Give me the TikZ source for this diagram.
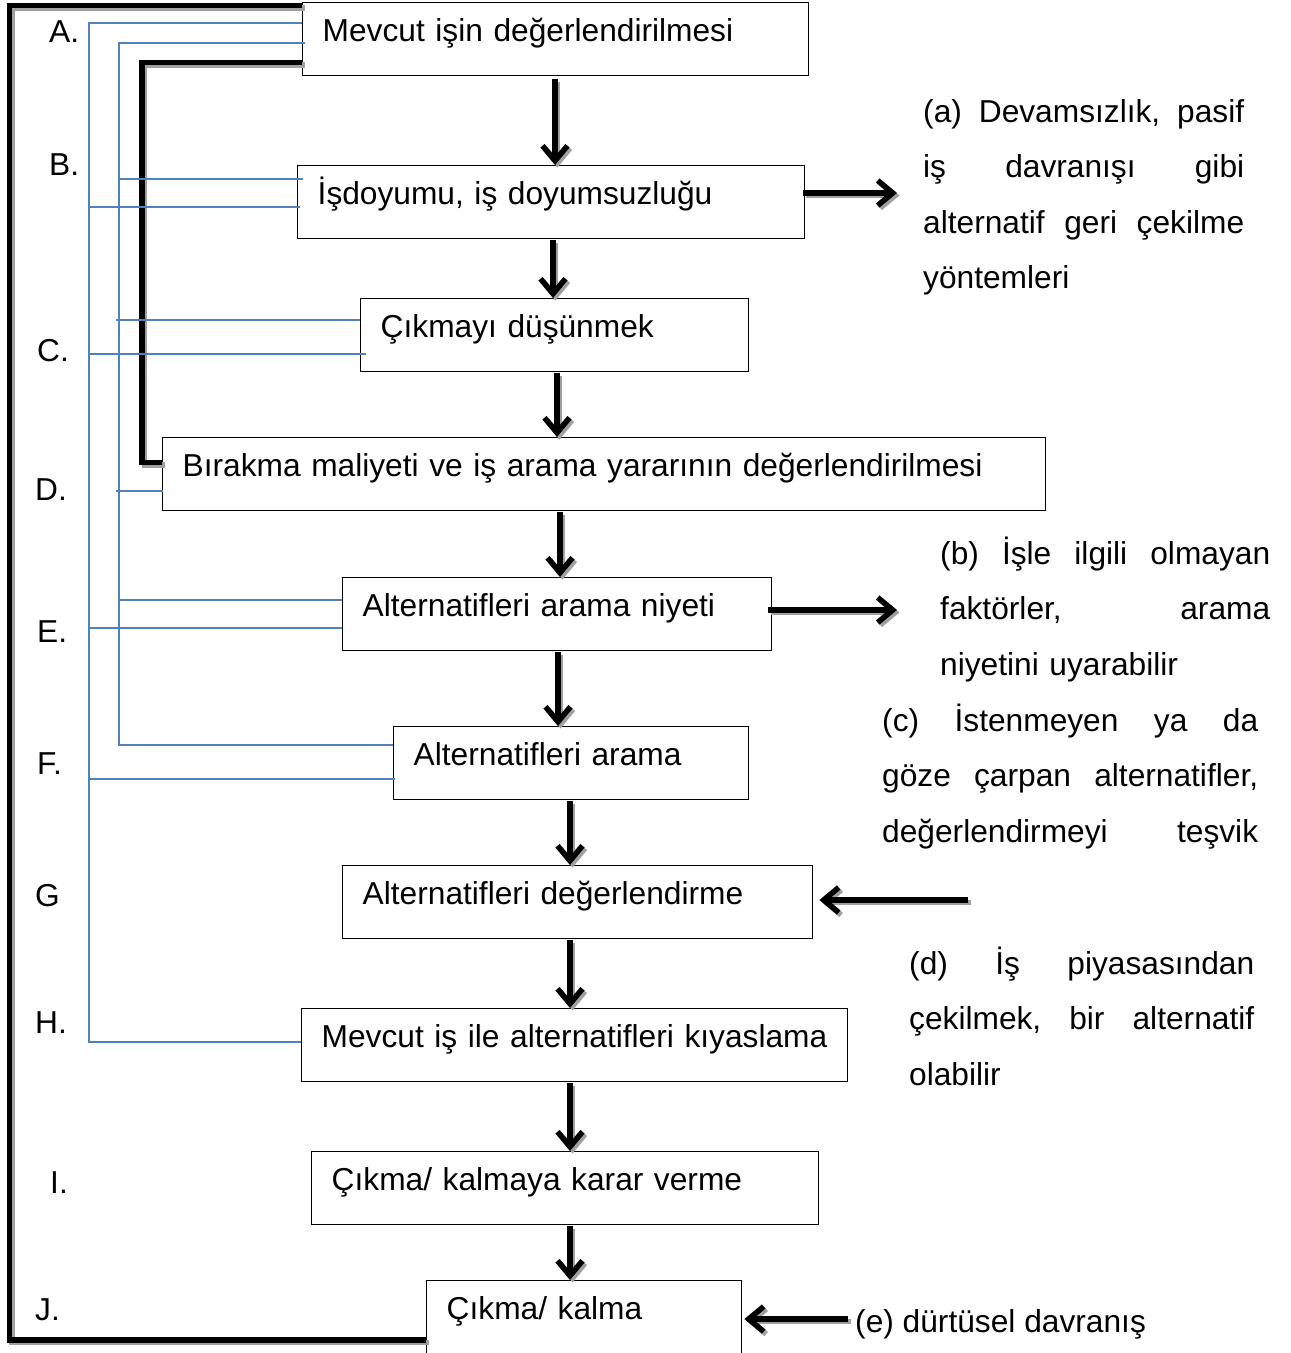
\documentclass[tikz,border=0pt]{standalone}
\usepackage{fontspec}
\setmainfont{Liberation Sans}
\usetikzlibrary{arrows.meta}
\definecolor{linkblue}{RGB}{79,129,189}
\definecolor{shade}{RGB}{160,160,160}

% thick arrow drawn twice: grey offset copy first, then the black one
\newcommand{\flowarrow}[2]{%
  \draw[flow, draw=shade, transform canvas={xshift=2.5pt,yshift=-2.5pt}] #1 -- #2;
  \draw[flow] #1 -- #2;}

\begin{document}
\begin{tikzpicture}[x=1pt,y=-1pt,
  font=\fontsize{31.7}{38}\selectfont,
  stage/.style={draw=black, line width=1.4pt, anchor=north west,
    inner xsep=20pt, inner ysep=0pt, text height=39pt, text depth=34pt,
    align=left},
  tag/.style={anchor=base west, inner sep=0pt},
  note/.style={anchor=base west, inner sep=0pt, align=left,
    font=\fontsize{31.7}{55.5}\selectfont},
  link/.style={draw=linkblue, line width=2pt},
  frame/.style={line width=5.5pt, line join=miter},
  frameshade/.style={frame, draw=shade, transform canvas={xshift=2.5pt,yshift=-2.5pt}},
  flow/.style={line width=5.5pt, -{Straight Barb[length=15pt,width=25pt]}},
]
\clip (0,0) rectangle (1291,1353);

% process stages
\node[stage, text width=466pt] (nA) at (302,2)   {\mbox{Mevcut işin değerlendirilmesi}};
\node[stage, text width=467pt] (nB) at (297,165) {\mbox{İşdoyumu, iş doyumsuzluğu}};
\node[stage, text width=348pt] (nC) at (360,298) {\mbox{Çıkmayı düşünmek}};
\node[stage, text width=843pt] (nD) at (162,437) {\mbox{Bırakma maliyeti ve iş arama yararının değerlendirilmesi}};
\node[stage, text width=389pt] (nE) at (342,577) {\mbox{Alternatifleri arama niyeti}};
\node[stage, text width=315pt] (nF) at (393,726) {\mbox{Alternatifleri arama}};
\node[stage, text width=430pt] (nG) at (342,865) {\mbox{Alternatifleri değerlendirme}};
\node[stage, text width=506pt] (nH) at (301,1008) {\mbox{Mevcut iş ile alternatifleri kıyaslama}};
\node[stage, text width=467pt] (nI) at (311,1151) {\mbox{Çıkma/ kalmaya karar verme}};
\node[stage, text width=275pt, text depth=50pt] (nJ) at (426,1280) {\mbox{Çıkma/ kalma}};

% step letters
\node[tag] (lA) at (49,42)   {A.};
\node[tag] (lB) at (49,175)  {B.};
\node[tag] (lC) at (37,361)  {C.};
\node[tag] (lD) at (35,500)  {D.};
\node[tag] (lE) at (37,642)  {E.};
\node[tag] (lF) at (37,774)  {F.};
\node[tag] (lG) at (35,906)  {G};
\node[tag] (lH) at (35,1033) {H.};
\node[tag] (lI) at (50,1193) {I.};
\node[tag] (lJ) at (35,1320) {J.};

% side remarks
\node[note, text width=321pt] (na) at (923,122)
  {(a) \hfill Devamsızlık, \hfill pasif\\
   iş \hfill davranışı \hfill gibi\\
   alternatif \hfill geri \hfill çekilme\\
   yöntemleri};
\node[note, text width=330pt] (nb) at (940,564)
  {(b) \hfill İşle \hfill ilgili \hfill olmayan\\
   faktörler, \hfill arama\\
   niyetini uyarabilir};
\node[note, text width=376pt] (nc) at (882,731)
  {(c) \hfill İstenmeyen \hfill ya \hfill da\\
   göze \hfill çarpan \hfill alternatifler,\\
   değerlendirmeyi \hfill teşvik};
\node[note, text width=345pt] (nd) at (909,974)
  {(d) \hfill İş \hfill piyasasından\\
   çekilmek, \hfill bir \hfill alternatif\\
   olabilir};
\node[tag] (ne) at (855,1332) {(e) dürtüsel davranış};

% trunk corners
\coordinate (fTop) at (9.5,5.5);
\coordinate (fBot) at (9.5,1340);
\coordinate (kTop) at (142,62.5);
\coordinate (kBot) at (142,462.5);
\coordinate (oTop) at (89,23);
\coordinate (oBot) at (89,1042);
\coordinate (iTop) at (119,43);
\coordinate (iBot) at (119,745);

% thick feedback lines with their grey shade
\draw[frameshade] (nA.west |- fTop) -- (fTop) -- (fBot) -- (nJ.west |- fBot);
\draw[frameshade] (nA.west |- kTop) -- (kTop) -- (kBot) -- (nD.west |- kBot);
\draw[frame] (nA.west |- fTop) -- (fTop) -- (fBot) -- (nJ.west |- fBot);
\draw[frame] (nA.west |- kTop) -- (kTop) -- (kBot) -- (nD.west |- kBot);

% outer blue trunk and its branches
\draw[link] (nA.west |- oTop) -- (oTop) -- (oBot) -- (nH.west |- oBot);
\draw[link] (89,207) -- ([xshift=3pt]nB.west |- 0,207);
\draw[link] (89,354) -- ([xshift=6pt]nC.west |- 0,354);
\draw[link] (89,628) -- (nE.west |- 0,628);
\draw[link] (89,779) -- ([xshift=2pt]nF.west |- 0,779);

% inner blue trunk and its branches
\draw[link] ([xshift=3pt]nA.west |- iTop) -- (iTop) -- (iBot) -- (nF.west |- iBot);
\draw[link] (119,179) -- ([xshift=6pt]nB.west |- 0,179);
\draw[link] (116,320) -- (nC.west |- 0,320);
\draw[link] (116,491) -- ([xshift=1pt]nD.west |- 0,491);
\draw[link] (119,600) -- (nE.west |- 0,600);

% main flow
\flowarrow{([xshift=253pt,yshift=-3pt]nA.south west)}{([xshift=258pt]nB.north west)}
\flowarrow{([xshift=256pt,yshift=-1pt]nB.south west)}{([xshift=193pt]nC.north west)}
\flowarrow{([xshift=197pt,yshift=-1pt]nC.south west)}{([xshift=395pt]nD.north west)}
\flowarrow{([xshift=398pt,yshift=-1pt]nD.south west)}{([xshift=218pt]nE.north west)}
\flowarrow{([xshift=216pt,yshift=-1pt]nE.south west)}{([xshift=165pt]nF.north west)}
\flowarrow{([xshift=177pt,yshift=-1pt]nF.south west)}{([xshift=228pt]nG.north west)}
\flowarrow{([xshift=228pt,yshift=-1pt]nG.south west)}{([xshift=269pt]nH.north west)}
\flowarrow{([xshift=269pt,yshift=-1pt]nH.south west)}{([xshift=259pt]nI.north west)}
\flowarrow{([xshift=259pt,yshift=-1pt]nI.south west)}{([xshift=144pt]nJ.north west)}

% side influences
\coordinate (ta) at (897,193);
\coordinate (tb) at (897,610);
\coordinate (sc) at (968,900);
\flowarrow{([xshift=-2pt]nB.east |- ta)}{(ta)}
\flowarrow{([xshift=-4pt]nE.east |- tb)}{(tb)}
\flowarrow{(sc)}{([xshift=6pt]nG.east |- sc)}
\flowarrow{([xshift=-7pt]ne.west |- 0,1319)}{([xshift=2pt]nJ.east |- 0,1319)}
\end{tikzpicture}
\end{document}
